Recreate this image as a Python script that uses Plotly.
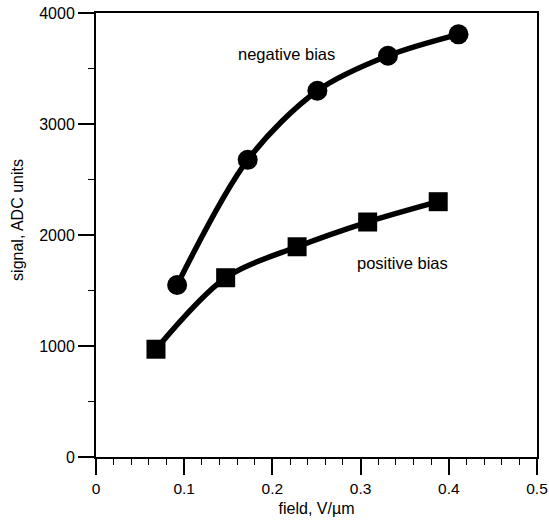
import plotly.graph_objects as go

neg_x = [0.092, 0.172, 0.251, 0.331, 0.411]
neg_y = [1550, 2677, 3300, 3615, 3808]
pos_x = [0.068, 0.147, 0.228, 0.308, 0.388]
pos_y = [971, 1615, 1894, 2117, 2300]

x_ticks = [0, 0.1, 0.2, 0.3, 0.4, 0.5]
x_labels = ["0", "0.1", "0.2", "0.3", "0.4", "0.5"]
y_ticks = [0, 1000, 2000, 3000, 4000]
y_labels = ["0", "1000", "2000", "3000", "4000"]

FONT = "Liberation Sans, Arial, sans-serif"

fig = go.Figure()
fig.add_trace(go.Scatter(x=neg_x, y=neg_y, mode="lines+markers",
                         line=dict(color="black", width=5.5, shape="spline", smoothing=0.9),
                         marker=dict(symbol="circle", size=20, color="black"),
                         name="negative bias", showlegend=False))
fig.add_trace(go.Scatter(x=pos_x, y=pos_y, mode="lines+markers",
                         line=dict(color="black", width=5.5, shape="spline", smoothing=0.9),
                         marker=dict(symbol="square", size=19, color="black"),
                         name="positive bias", showlegend=False))

fig.add_annotation(x=0.216, y=3635, text="negative bias", showarrow=False,
                   font=dict(family=FONT, size=16.5, color="black"))
fig.add_annotation(x=0.348, y=1745, text="positive bias", showarrow=False,
                   font=dict(family=FONT, size=16.5, color="black"))
# y-axis title (placed slightly above the plot centre, as in the original)
fig.add_annotation(xref="paper", yref="paper", x=0, y=0.534, xshift=-78,
                   text="signal, ADC units", textangle=-90, showarrow=False,
                   xanchor="center", yanchor="middle",
                   font=dict(family=FONT, size=16, color="black"))

axis_common = dict(showline=True, linecolor="black", linewidth=2, mirror=True,
                   ticks="outside", tickcolor="black", tickwidth=1.5,
                   showgrid=False, zeroline=False, automargin=False)

fig.update_xaxes(range=[0, 0.5], tickvals=x_ticks, ticktext=x_labels, ticklen=16,
                 tickfont=dict(family=FONT, size=15.5, color="black"),
                 minor=dict(dtick=0.02, ticks="outside", ticklen=6, tickcolor="black", tickwidth=1),
                 title=dict(text="field, V/µm", font=dict(family=FONT, size=16, color="black"), standoff=7),
                 **axis_common)
fig.update_yaxes(range=[0, 4000], tickvals=y_ticks, ticktext=y_labels, ticklen=16,
                 tickfont=dict(family=FONT, size=16, color="black"),
                 minor=dict(dtick=500, ticks="outside", ticklen=6, tickcolor="black", tickwidth=1),
                 **axis_common)

fig.update_layout(width=549, height=524, plot_bgcolor="white", paper_bgcolor="white",
                  margin=dict(l=96, r=12, t=13, b=67))

fig.write_html("out.html", config={"displayModeBar": False},
               post_script="document.body.style.margin='0';")
